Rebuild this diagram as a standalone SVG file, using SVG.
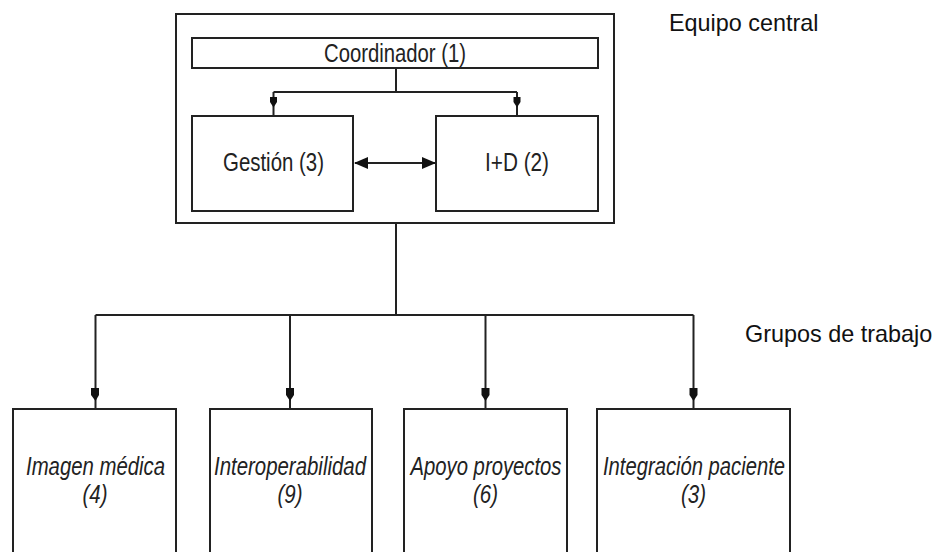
<svg xmlns="http://www.w3.org/2000/svg" width="943" height="552" viewBox="0 0 943 552">
<style>
.box{fill:#fff;stroke:#222;stroke-width:2}
.ln{fill:none;stroke:#222;stroke-width:2}
.ah{fill:#111;stroke:none}
.lbl{font-family:"Liberation Sans",Arial,sans-serif;font-size:26px;fill:#222;text-anchor:middle}
.it{font-style:italic}
.cap{font-family:"Liberation Sans",Arial,sans-serif;font-size:23.4px;fill:#111}
</style>
<rect width="943" height="552" fill="#fff"/>
<g id="equipo-central">
<rect class="box" x="176" y="14" width="438" height="209"/>
</g>
<g id="coordinador">
<rect class="box" x="192" y="38" width="406" height="30"/>
<text class="lbl" x="395" y="61.5" textLength="142" lengthAdjust="spacingAndGlyphs">Coordinador (1)</text>
</g>
<g id="gestion">
<rect class="box" x="192" y="116" width="161" height="95"/>
<text class="lbl" x="273.5" y="171" textLength="101" lengthAdjust="spacingAndGlyphs">Gestión (3)</text>
</g>
<g id="id">
<rect class="box" x="436" y="116" width="162" height="95"/>
<text class="lbl" x="517" y="171" textLength="64" lengthAdjust="spacingAndGlyphs">I+D (2)</text>
</g>
<g id="imagen-medica">
<rect class="box" x="13" y="409" width="163" height="160"/>
<text class="lbl it" x="95.5" y="475" textLength="139" lengthAdjust="spacingAndGlyphs">Imagen médica</text>
<text class="lbl it" x="95" y="503" textLength="25" lengthAdjust="spacingAndGlyphs">(4)</text>
</g>
<g id="interoperabilidad">
<rect class="box" x="210" y="409" width="162" height="160"/>
<text class="lbl it" x="290" y="475" textLength="152" lengthAdjust="spacingAndGlyphs">Interoperabilidad</text>
<text class="lbl it" x="290" y="503" textLength="25" lengthAdjust="spacingAndGlyphs">(9)</text>
</g>
<g id="apoyo-proyectos">
<rect class="box" x="404" y="409" width="163" height="160"/>
<text class="lbl it" x="486" y="475" textLength="151" lengthAdjust="spacingAndGlyphs">Apoyo proyectos</text>
<text class="lbl it" x="485.5" y="503" textLength="25" lengthAdjust="spacingAndGlyphs">(6)</text>
</g>
<g id="integracion-paciente">
<rect class="box" x="597" y="409" width="193" height="160"/>
<text class="lbl it" x="694" y="475" textLength="182" lengthAdjust="spacingAndGlyphs">Integración paciente</text>
<text class="lbl it" x="693.5" y="503" textLength="25" lengthAdjust="spacingAndGlyphs">(3)</text>
</g>
<g id="captions">
<text class="cap" x="669" y="30.5">Equipo central</text>
<text class="cap" x="745" y="341.5">Grupos de trabajo</text>
</g>
<g id="connectors">
<path class="ln" d="M396 68 V92 M273.5 92 H517 M273.5 92 V116 M517 92 V116"/>
<path class="ln" d="M355 163 H435"/>
<path class="ln" d="M396 223 V315 M95.5 315 H693.5 M95.5 315 V409 M290 315 V409 M485.5 315 V409 M693.5 315 V409"/>
<path class="ah" d="M270 97 H277 V102 L273.5 107.5 L270 102 Z"/>
<path class="ah" d="M513.5 97 H520.5 V102 L517 107.5 L513.5 102 Z"/>
<path class="ah" d="M354 163 L368 157 V169 Z"/>
<path class="ah" d="M436 163 L422 157 V169 Z"/>
<path class="ah" d="M91 388 H99 V395 L95.5 401 L91 395 Z"/>
<path class="ah" d="M286 388 H294 V395 L290 401 L286 395 Z"/>
<path class="ah" d="M481.5 388 H489.5 V395 L485.5 401 L481.5 395 Z"/>
<path class="ah" d="M689.5 388 H697.5 V395 L693.5 401 L689.5 395 Z"/>
</g>
</svg>
